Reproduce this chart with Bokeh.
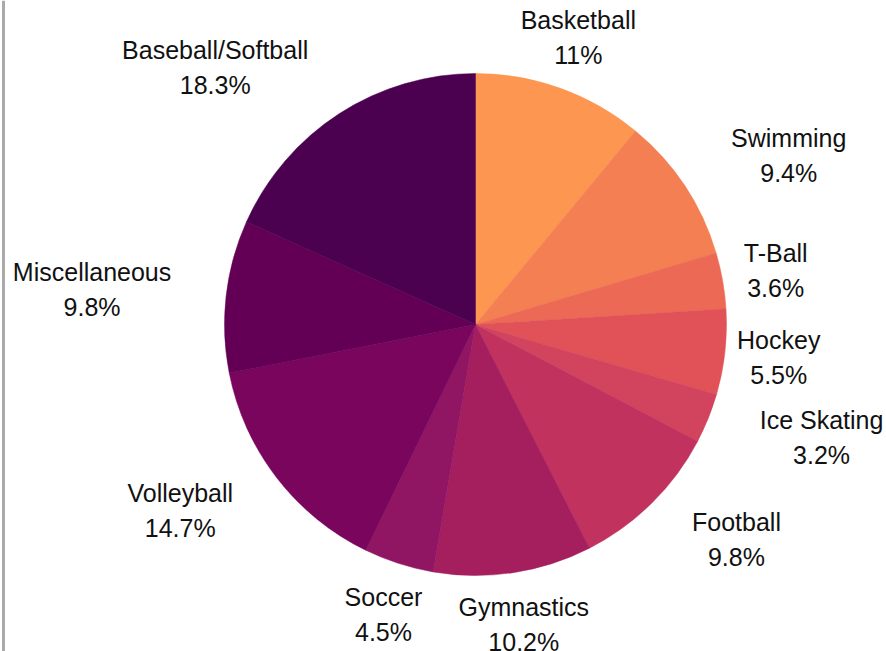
import math
from bokeh.plotting import figure
from bokeh.models import ColumnDataSource, Span
from bokeh.core.properties import value
from bokeh.embed import file_html
from bokeh.resources import INLINE

# ---- data ----
sports = ["Basketball", "Swimming", "T-Ball", "Hockey", "Ice Skating", "Football",
          "Gymnastics", "Soccer", "Volleyball", "Miscellaneous", "Baseball/Softball"]
percents = [11, 9.4, 3.6, 5.5, 3.2, 9.8, 10.2, 4.5, 14.7, 9.8, 18.3]
pct_labels = ["11%", "9.4%", "3.6%", "5.5%", "3.2%", "9.8%", "10.2%", "4.5%", "14.7%", "9.8%", "18.3%"]
colors = ["#fd9650", "#f47f52", "#ec6a55", "#e05257", "#d2445d", "#c1325f",
          "#a51e5e", "#901663", "#7a055d", "#630055", "#4c0050"]

# ---- layout (label placement: angle nudge in degrees, radius in px) ----
label_nudge = [0.1, -5.1, 0.1, 0.1, 3.9, 5.9, 0.5, 0.2, -5.4, 1.3, 12.4]
label_radius = [305, 356, 305, 305, 364, 338, 304, 304, 349, 385, 366]
R = 251
W, H = 886, 651
cx_px, cy_px = 475, 324  # pie centre inside the canvas

total = sum(percents)
starts, ends, lx, ly = [], [], [], []
acc = 0.0
for i, v in enumerate(percents):
    a0 = math.pi / 2 - 2 * math.pi * acc / total
    a1 = math.pi / 2 - 2 * math.pi * (acc + v) / total
    starts.append(a1)
    ends.append(a0)
    mid = (a0 + a1) / 2 + math.radians(label_nudge[i])
    lx.append(label_radius[i] * math.cos(mid))
    ly.append(label_radius[i] * math.sin(mid))
    acc += v

src = ColumnDataSource(dict(start=starts, end=ends, color=colors, name=sports,
                            pct=pct_labels, lx=lx, ly=ly))

p = figure(width=W, height=H, output_backend="svg", toolbar_location=None,
           x_range=(-cx_px, W - cx_px), y_range=(cy_px - H, cy_px),
           x_axis_type=None, y_axis_type=None, min_border=0, match_aspect=False)
p.outline_line_color = None
p.grid.visible = False
p.background_fill_color = "white"
p.border_fill_color = "white"

p.wedge(x=0, y=0, radius=R, start_angle="start", end_angle="end",
        fill_color="color", line_color="color", line_width=0.5, source=src)

p.text(x="lx", y="ly", text="name", source=src, text_align="center", text_baseline="middle",
       text_font=value("Liberation Sans"), text_font_size="25px", text_color="#111111",
       y_offset=-17.5)
p.text(x="lx", y="ly", text="pct", source=src, text_align="center", text_baseline="middle",
       text_font=value("Liberation Sans"), text_font_size="25px", text_color="#111111",
       y_offset=17.5)

p.add_layout(Span(location=-cx_px + 3, dimension="height", line_color="#aaaaaa", line_width=3))

open("out.html", "w").write(file_html(p, INLINE))
